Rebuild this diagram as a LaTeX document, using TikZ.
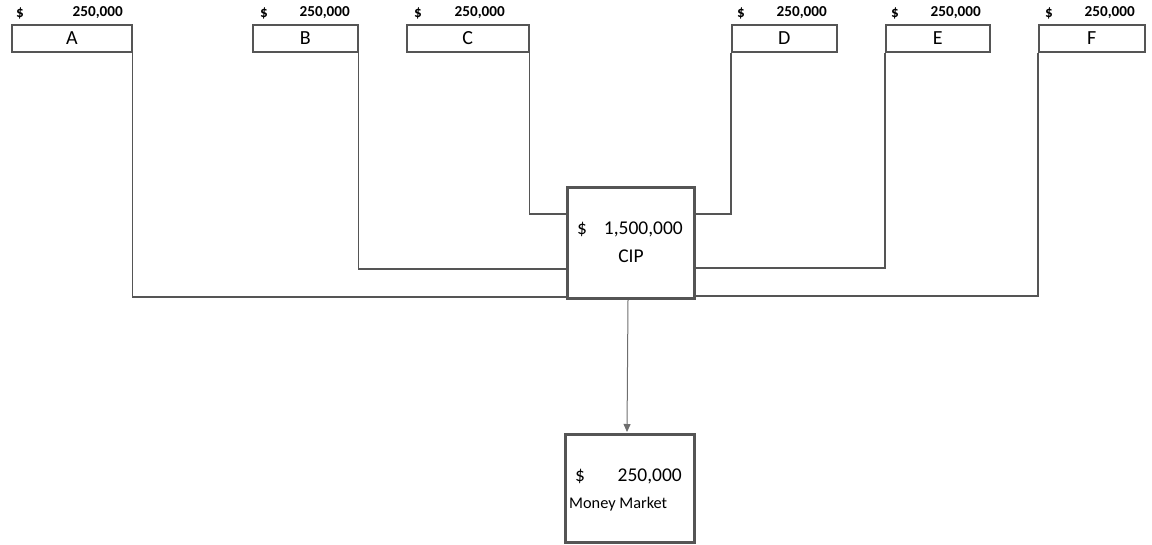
\documentclass[tikz,border=0pt]{standalone}
\usepackage{fontspec}
\setmainfont{Carlito}
\usetikzlibrary{arrows.meta}
\definecolor{ln}{RGB}{85,85,85}
\definecolor{ar}{RGB}{110,110,110}
\tikzset{
  topbox/.style={draw=ln, line width=1.6pt, minimum height=27pt, inner sep=0pt, anchor=north west, font=\fontsize{20}{20}\selectfont},
  bigbox/.style={draw=ln, line width=3pt, inner sep=0pt, anchor=north west},
  amt/.style={font=\bfseries\fontsize{15.2}{15.2}\selectfont, inner sep=0pt},
  big/.style={font=\fontsize{19.5}{19.5}\selectfont, inner sep=0pt},
  wire/.style={draw=ln, line width=1.6pt}
}
\begin{document}
\begin{tikzpicture}[x=1pt,y=-1pt]
\useasboundingbox (0,0) rectangle (1152,544);
% top boxes
\node[topbox, minimum width=120pt] (A) at (11,24) {A};
\node[topbox, minimum width=105pt] (B) at (252,24) {B};
\node[topbox, minimum width=122pt] (C) at (406,24) {C};
\node[topbox, minimum width=105pt] (D) at (731,24) {D};
\node[topbox, minimum width=104pt] (E) at (885,24) {E};
\node[topbox, minimum width=106pt] (F) at (1038,24) {F};
% amounts
\node[amt] (sA) at (20,13) {\$};   \node[amt, anchor=east] (vA) at (123,13) {250,000};
\node[amt] (sB) at (264,13) {\$};  \node[amt, anchor=east] (vB) at (350,13) {250,000};
\node[amt] (sC) at (418,13) {\$};  \node[amt, anchor=east] (vC) at (505,13) {250,000};
\node[amt] (sD) at (741,13) {\$};  \node[amt, anchor=east] (vD) at (827,13) {250,000};
\node[amt] (sE) at (895,13) {\$};  \node[amt, anchor=east] (vE) at (981,13) {250,000};
\node[amt] (sF) at (1049,13) {\$}; \node[amt, anchor=east] (vF) at (1135,13) {250,000};
% CIP box
\node[bigbox, minimum width=127pt, minimum height=111pt] (cip) at (566,186) {};
\node[big] (cipd) at (582,229) {\$};
\node[big, anchor=east] (cipv) at (683,229) {1,500,000};
\node[big] (cipt) at (631,256) {CIP};
% Money market box
\node[bigbox, minimum width=129pt, minimum height=108pt] (mm) at (564,433) {};
\node[big] (mmd) at (580,476) {\$};
\node[big, anchor=east] (mmv) at (682,476) {250,000};
\node[font=\fontsize{16.3}{16.3}\selectfont, inner sep=0pt, anchor=west] (mmt) at (569,504) {Money Market};
% junction coordinates
\coordinate (jA) at (566,297);
\coordinate (jB) at (566,269);
\coordinate (jC) at (566,214);
\coordinate (jD) at (693,214);
\coordinate (jE) at (693,268);
\coordinate (jF) at (693,296);
% connectors
\draw[wire] (A.south east) |- (jA);
\draw[wire] (B.south east) |- (jB);
\draw[wire] (C.south east) |- (jC);
\draw[wire] (D.south west) |- (jD);
\draw[wire] (E.south west) |- (jE);
\draw[wire] (F.south west) |- (jF);
\draw[draw=ar, line width=1pt, -{Triangle[length=8pt,width=7pt]}, shorten >=1pt] ([xshift=-3pt]cip.south) -- ([xshift=-3pt]mm.north);
\end{tikzpicture}
\end{document}
